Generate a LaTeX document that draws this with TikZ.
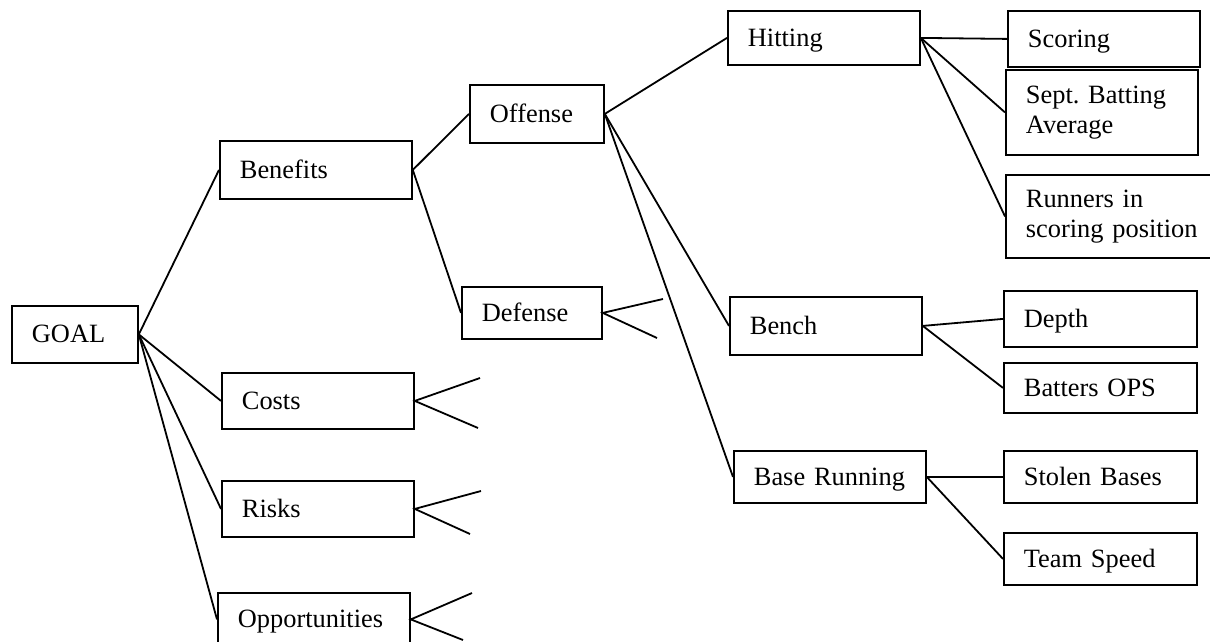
\documentclass[tikz,border=0pt]{standalone}
\usepackage{fontspec}
\setmainfont{Liberation Serif}
\tikzset{
  cell/.style={draw, line width=1.8pt, anchor=north west, inner xsep=20pt,
    inner ysep=0pt, align=left, font=\fontsize{26.4}{30}\selectfont},
  one/.style={text height=18pt, text depth=1pt},
  link/.style={line width=1.8pt}
}
\begin{document}
\begin{tikzpicture}[x=1pt, y=-1pt]
  \clip (0,0) rectangle (1210,641);

  % root and first level
  \node[cell, one, text width=86pt,  minimum height=57pt] (goal) at (11,305)  {GOAL};
  \node[cell, one, text width=152pt, minimum height=58pt] (ben)  at (219,140) {Benefits};
  \node[cell, one, text width=152pt, minimum height=56pt] (cost) at (221,372) {Costs};
  \node[cell, one, text width=152pt, minimum height=56pt] (risk) at (221,480) {Risks};
  \node[cell, one, text width=152pt, minimum height=53pt] (opp)  at (217,592) {Opportunities};

  % second level
  \node[cell, one, text width=94pt,  minimum height=58pt] (off) at (469,84)  {Offense};
  \node[cell, one, text width=100pt, minimum height=52pt] (def) at (461,286) {Defense};

  % third level
  \node[cell, one, text width=152pt, minimum height=54pt] (hit)   at (727,10)  {Hitting};
  \node[cell, one, text width=152pt, minimum height=58pt] (bench) at (729,296) {Bench};
  \node[cell, one, text width=152pt, minimum height=52pt] (run)   at (733,450) {Base Running};

  % leaves
  \node[cell, one, text width=152pt, minimum height=56pt] (scor)  at (1007,10)  {Scoring};
  \node[cell,      text width=152pt, minimum height=85pt] (sept)  at (1005,69)  {Sept.\ Batting\\Average};
  \node[cell,      text width=172pt, minimum height=83pt] (rsp)   at (1005,174) {Runners in\\scoring position};
  \node[cell, one, text width=153pt, minimum height=56pt] (depth) at (1003,290) {Depth};
  \node[cell, one, text width=153pt, minimum height=50pt] (ops)   at (1003,362) {Batters OPS};
  \node[cell, one, text width=153pt, minimum height=52pt] (sb)    at (1003,450) {Stolen Bases};
  \node[cell, one, text width=153pt, minimum height=52pt] (speed) at (1003,532) {Team Speed};

  % open branch ends
  \coordinate (def1)  at (663,299);
  \coordinate (def2)  at (657,338);
  \coordinate (cost1) at (480,378);
  \coordinate (cost2) at (478,428);
  \coordinate (risk1) at (481,491);
  \coordinate (risk2) at (470,534);
  \coordinate (opp1)  at (472,593);
  \coordinate (opp2)  at (463,640);

  % connectors
  \draw[link] (goal.east) -- (ben.west);
  \draw[link] (goal.east) -- (cost.west);
  \draw[link] (goal.east) -- (risk.west);
  \draw[link] (goal.east) -- (opp.west);

  \draw[link] (ben.east) -- (off.west);
  \draw[link] (ben.east) -- (def.west);

  \draw[link] (off.east) -- (hit.west);
  \draw[link] (off.east) -- (bench.west);
  \draw[link] (off.east) -- (run.west);

  \draw[link] (hit.east) -- (scor.west);
  \draw[link] (hit.east) -- (sept.west);
  \draw[link] (hit.east) -- (rsp.west);

  \draw[link] (bench.east) -- (depth.west);
  \draw[link] (bench.east) -- (ops.west);

  \draw[link] (run.east) -- (sb.west);
  \draw[link] (run.east) -- (speed.west);

  \draw[link] (def1) -- (def.east) -- (def2);
  \draw[link] (cost1) -- (cost.east) -- (cost2);
  \draw[link] (risk1) -- (risk.east) -- (risk2);
  \draw[link] (opp1) -- (opp.east) -- (opp2);
\end{tikzpicture}
\end{document}
